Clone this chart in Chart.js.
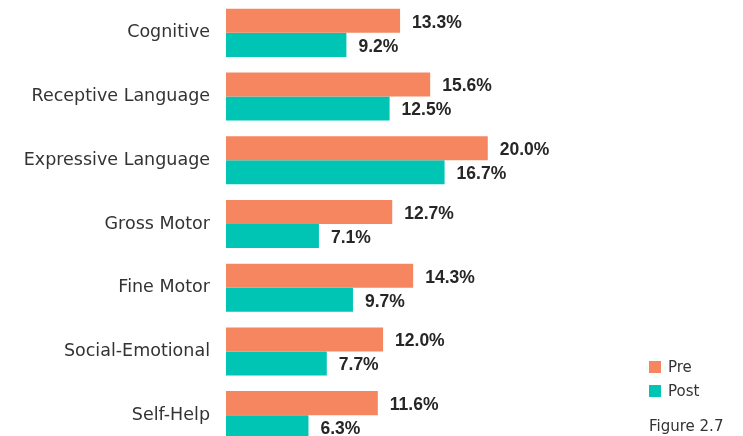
<!DOCTYPE html>
<html>
<head>
<meta charset="utf-8">
<script src="https://cdn.jsdelivr.net/npm/chart.js"></script>
<style>
  html, body { margin: 0; padding: 0; background: #ffffff; overflow: hidden; }
  #wrap { position: relative; width: 743px; height: 448px; }
</style>
</head>
<body>
<div id="wrap"><canvas id="chart"></canvas></div>
<script>
const categories = ['Cognitive', 'Receptive Language', 'Expressive Language', 'Gross Motor', 'Fine Motor', 'Social-Emotional', 'Self-Help'];
const preValues = [13.3, 15.6, 20.0, 12.7, 14.3, 12.0, 11.6];
const postValues = [9.2, 12.5, 16.7, 7.1, 9.7, 7.7, 6.3];
const seriesNames = ['Pre', 'Post'];
const figureCaption = 'Figure 2.7';

const PRE_COLOR = '#F68660';
const POST_COLOR = '#00C5B4';
const FONT = "'DejaVu Sans', sans-serif";
const BOLD_FONT = "'Liberation Sans', Arial, sans-serif";

// value labels at the end of each bar
const valueLabels = {
  id: 'valueLabels',
  afterDatasetsDraw(chart) {
    const ctx = chart.ctx;
    ctx.save();
    ctx.font = 'bold 17.5px ' + BOLD_FONT;
    ctx.fillStyle = '#262626';
    ctx.textAlign = 'left';
    ctx.textBaseline = 'middle';
    chart.data.datasets.forEach((ds, i) => {
      chart.getDatasetMeta(i).data.forEach((bar, j) => {
        ctx.fillText(ds.data[j].toFixed(1) + '%', bar.x + 12, bar.y + 2);
      });
    });
    ctx.restore();
  }
};

// legend + caption in the bottom-right corner
const cornerLegend = {
  id: 'cornerLegend',
  afterDraw(chart) {
    const ctx = chart.ctx;
    ctx.save();
    ctx.font = '15px ' + FONT;
    ctx.textBaseline = 'middle';
    ctx.fillStyle = PRE_COLOR;
    ctx.fillRect(649, 361, 12, 12);
    ctx.fillStyle = POST_COLOR;
    ctx.fillRect(649, 385, 12, 12);
    ctx.fillStyle = '#333333';
    ctx.fillText(seriesNames[0], 668, 368);
    ctx.fillText(seriesNames[1], 668, 392);
    ctx.fillText(figureCaption, 649, 427);
    ctx.restore();
  }
};

new Chart(document.getElementById('chart').getContext('2d'), {
  type: 'bar',
  data: {
    labels: categories,
    datasets: [
      { label: seriesNames[0], data: preValues, backgroundColor: PRE_COLOR },
      { label: seriesNames[1], data: postValues, backgroundColor: POST_COLOR }
    ]
  },
  options: {
    indexAxis: 'y',
    responsive: true,
    maintainAspectRatio: false,
    animation: false,
    categoryPercentage: 0.754,
    barPercentage: 1,
    layout: { padding: { top: 1, bottom: 1, left: 0, right: 0 } },
    plugins: {
      legend: { display: false },
      tooltip: { enabled: false }
    },
    scales: {
      x: { display: false, min: 0, max: 39.5 },
      y: {
        afterFit: s => { s.width = 226; s.paddingTop = 0; s.paddingBottom = 0; },
        border: { display: false },
        grid: { display: false, drawTicks: false },
        ticks: { padding: 16, color: '#333333', font: { family: FONT, size: 17.5 } }
      }
    }
  },
  plugins: [valueLabels, cornerLegend]
});
</script>
</body>
</html>
